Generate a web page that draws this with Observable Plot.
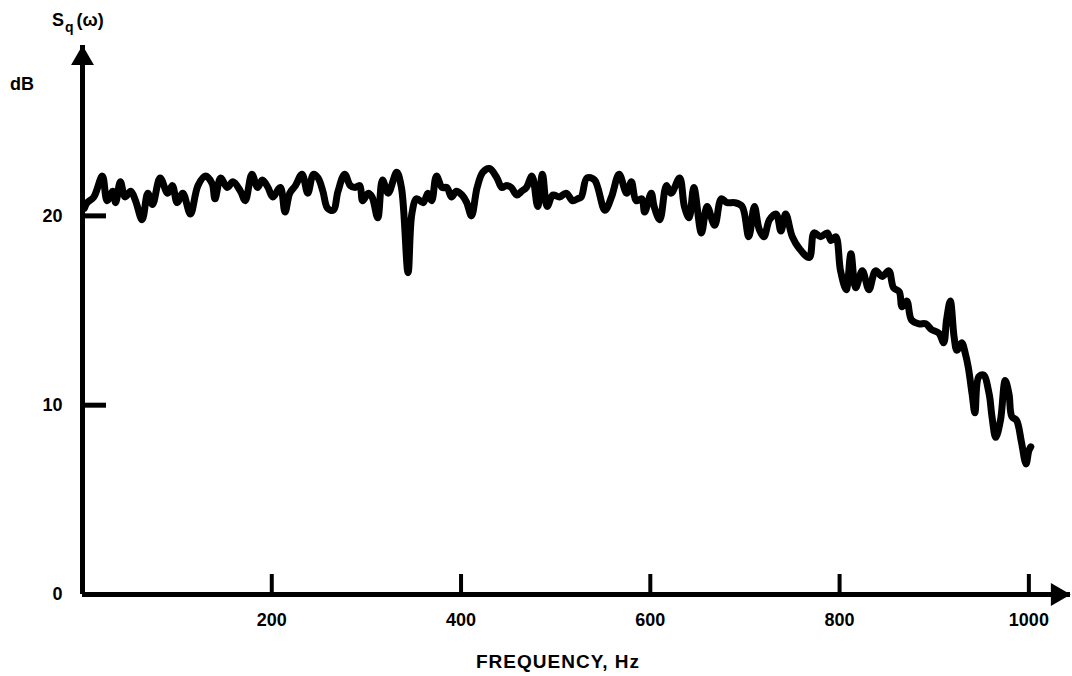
<!DOCTYPE html>
<html><head><meta charset="utf-8">
<script src="https://cdn.jsdelivr.net/npm/d3@7"></script>
<script src="https://cdn.jsdelivr.net/npm/@observablehq/plot@0.6"></script>
<style>
html,body{margin:0;padding:0;background:#fff;}
#chart{width:1072px;height:676px;}
</style></head><body><div id="chart"></div>
<script>
// Frequency (Hz) samples
const freq = [
  2,5,12,21,26,32,35,40,45,51,56,63,69,74,82,90,95,100,106,114,
  122,130,137,140,146,153,159,167,172,179,185,190,196,201,209,214,219,225,232,238,
  244,249,254,259,
  265,270,277,283,288,293,296,302,306,312,317,323,332,337,344,348,353,360,365,369,
  374,380,385,390,395,401,406,411,417,423,430,438,443,448,453,459,464,469,475,481,
  486,491,497,504,511,518,523,
  527,533,541,552,559,567,575,580,585,591,594,601,604,610,617,622,631,636,641,646,
  654,660,668,675,681,689,697,704,710,715,720,726,733,738,743,750,757,768,773,780,
  787,
  791,796,801,807,812,817,824,831,838,845,852,857,863,866,871,876,884,891,897,905,
  910,913,917,921,924,929,933,936,940,943,947,952,958,961,965,970,975,979,982,987,
  992,997,1000,1002
];
// Spectrum level S_q(ω) in dB
const level = [
  20.4,20.7,21.0,22.1,20.8,21.3,20.7,21.8,21.0,21.3,20.8,19.8,21.2,20.6,22.0,21.2,21.6,20.7,21.2,20.1,
  21.6,22.1,21.7,20.9,22.0,21.5,21.8,21.3,20.8,22.2,21.5,21.9,21.5,21.0,21.5,20.2,21.2,21.6,22.2,21.2,
  22.2,22.0,21.3,20.4,
  20.3,21.3,22.2,21.6,21.5,21.6,20.8,21.2,21.0,19.9,21.9,21.2,22.3,21.5,17.0,20.1,20.9,20.7,21.2,20.8,
  22.1,21.5,21.5,21.0,21.3,21.1,20.7,20.0,21.5,22.3,22.5,22.0,21.5,21.6,21.5,21.1,21.3,21.5,22.1,20.5,
  22.2,20.5,21.1,21.0,21.2,20.8,20.9,
  21.0,22.0,21.9,20.3,21.0,22.2,21.2,21.8,20.8,20.9,20.2,21.2,20.5,19.8,21.6,21.2,22.0,20.5,19.9,21.5,
  19.1,20.5,19.5,20.9,20.7,20.7,20.5,18.9,20.5,19.3,18.9,19.8,20.1,19.2,20.1,18.9,18.3,17.8,19.1,18.9,
  19.1,
  18.7,18.9,17.1,16.1,18.0,16.2,17.1,16.1,17.1,16.8,17.1,16.2,16.0,15.2,15.5,14.5,14.3,14.3,14.0,13.8,
  13.3,14.5,15.5,13.6,12.9,13.3,12.7,12.0,10.6,9.6,11.5,11.6,10.6,9.4,8.3,9.2,11.3,10.6,9.4,9.2,
  8.1,6.9,7.6,7.8
];
const xTicks = [200, 400, 600, 800, 1000];
const yTicks = [0, 10, 20];
const xDomain = [0, 1044];
const yDomain = [0, 29];
const yTitle = "S";
const yTitleSub = "q";
const yTitleRest = "(ω)";
const yUnit = "dB";
const xTitle = "FREQUENCY, Hz";

const data = freq.map((f, i) => ({f, v: level[i]}));
const font = "'Liberation Sans', Arial, sans-serif";

const plot = Plot.plot({
  width: 1072, height: 676,
  marginLeft: 82, marginRight: 2, marginTop: 45, marginBottom: 82,
  style: {fontFamily: font, fontSize: "18px", fontWeight: "bold", color: "#000", background: "#fff", overflow: "visible"},
  x: {domain: xDomain, label: null},
  y: {domain: yDomain, label: null},
  marks: [
    Plot.ruleY([yDomain[0]], {stroke: "#000", strokeWidth: 5}),
    Plot.ruleX([xDomain[0]], {stroke: "#000", strokeWidth: 5}),
    Plot.axisX(xTicks, {tickSize: -20, tickPadding: 39, strokeWidth: 4, fontSize: 18, fontWeight: "bold", tickFormat: d => String(d)}),
    Plot.axisY(yTicks, {tickSize: -24, tickPadding: 44, strokeWidth: 5, fontSize: 18, fontWeight: "bold", tickFormat: d => String(d)}),
    Plot.dot([yDomain[1]], {x: xDomain[0], y: d => d, symbol: "triangle", r: 8.5, fill: "#000", stroke: null, dy: 13}),
    Plot.dot([xDomain[1]], {x: d => d, y: yDomain[0], symbol: "triangle", r: 8.5, fill: "#000", stroke: null, rotate: 90, dx: -13}),
    Plot.line(data, {x: "f", y: "v", stroke: "#000", strokeWidth: 7, curve: "catmull-rom", strokeLinejoin: "round", strokeLinecap: "round"})
  ]
});

const svg = d3.select(plot);
const t = svg.append("text").attr("x", 52).attr("y", 26).attr("text-anchor", "start")
  .attr("font-family", font).attr("font-size", 18).attr("font-weight", "bold").attr("fill", "#000");
t.append("tspan").text(yTitle);
t.append("tspan").attr("dy", 6).attr("dx", 1).attr("font-size", 14).text(yTitleSub);
t.append("tspan").attr("dy", -6).attr("dx", 3).text(yTitleRest);
svg.append("text").attr("x", 10).attr("y", 90).attr("text-anchor", "start")
  .attr("font-family", font).attr("font-size", 18).attr("font-weight", "bold").attr("fill", "#000").text(yUnit);
svg.append("text").attr("x", 558).attr("y", 668).attr("text-anchor", "middle")
  .attr("font-family", font).attr("font-size", 19).attr("font-weight", "bold").attr("letter-spacing", 1).attr("fill", "#000").text(xTitle);

document.getElementById("chart").appendChild(plot);
</script>
</body></html>
